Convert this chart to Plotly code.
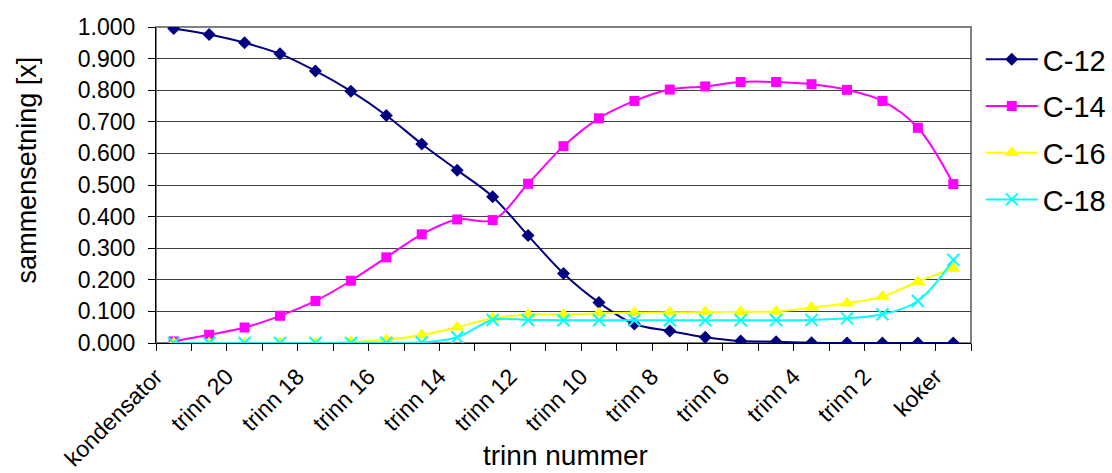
import plotly.graph_objects as go

categories = ["kondensator"] + [f"trinn {n}" for n in range(21, 0, -1)] + ["koker"]

c12 = [0.995, 0.976, 0.950, 0.915, 0.861, 0.797, 0.720, 0.630, 0.547, 0.463,
       0.340, 0.220, 0.128, 0.060, 0.038, 0.018, 0.006, 0.004, 0.001, 0.000,
       0.000, 0.000, 0.000]
c14 = [0.005, 0.026, 0.049, 0.086, 0.133, 0.197, 0.271, 0.344, 0.391, 0.389,
       0.504, 0.623, 0.711, 0.766, 0.802, 0.812, 0.826, 0.826, 0.819, 0.801,
       0.766, 0.681, 0.503]
c16 = [0.000, 0.000, 0.000, 0.000, 0.000, 0.004, 0.010, 0.025, 0.050, 0.078,
       0.090, 0.090, 0.094, 0.096, 0.097, 0.098, 0.099, 0.100, 0.112, 0.126,
       0.147, 0.194, 0.236]
c18 = [0.000, 0.000, 0.000, 0.000, 0.000, 0.000, 0.001, 0.002, 0.018, 0.073,
       0.073, 0.072, 0.072, 0.072, 0.072, 0.072, 0.072, 0.072, 0.073, 0.078,
       0.091, 0.133, 0.263]

series_names = ["C-12", "C-14", "C-16", "C-18"]
series_values = [c12, c14, c16, c18]
colors = ["#000080", "#FF00FF", "#FFFF00", "#00FFFF"]
symbols = ["diamond", "square", "triangle-up", "x-thin-open"]
msizes = [10, 10, 13, 12]

FONT = "Arial, Liberation Sans, sans-serif"
x = list(range(len(categories)))

fig = go.Figure()
for name, vals, col, sym, ms in zip(series_names, series_values, colors, symbols, msizes):
    marker = dict(symbol=sym, size=ms, color=col)
    if sym.startswith("x-thin"):
        marker["line"] = dict(color=col, width=2)
    fig.add_trace(go.Scatter(
        x=x, y=vals, name=name, mode="lines+markers",
        line=dict(color=col, width=2, shape="spline", smoothing=1.0),
        marker=marker, legendgroup=name,
    ))

fig.update_layout(
    width=1112, height=473,
    margin=dict(l=156, r=141, t=27, b=130, autoexpand=False),
    paper_bgcolor="white", plot_bgcolor="white",
    font=dict(family=FONT, color="black"),
    showlegend=True,
    legend=dict(
        x=1.012, y=0.978, xanchor="left", yanchor="top",
        font=dict(size=29, family=FONT, color="black"),
        tracegroupgap=6, bgcolor="rgba(0,0,0,0)",
        traceorder="grouped", itemwidth=52,
    ),
    xaxis=dict(
        range=[-0.5, len(categories) - 0.5],
        automargin=False,
        tickmode="array",
        tickvals=x[::2],
        ticktext=categories[::2],
        tickangle=-45,
        ticks="", ticklen=0,
        ticklabelstandoff=10, ticklabelshift=-18,
        tickfont=dict(size=23, family=FONT, color="black"),
        showgrid=False, zeroline=False,
        showline=True, linecolor="black", linewidth=1,
        minor=dict(tickmode="array", tickvals=[i - 0.5 for i in range(len(categories) + 1)],
                   ticks="outside", ticklen=7, tickcolor="black", tickwidth=1, showgrid=False),
    ),
    yaxis=dict(
        range=[0, 1.0],
        automargin=False,
        tick0=0, dtick=0.1,
        tickformat=".3f",
        ticks="outside", ticklen=7, tickcolor="black",
        ticklabelstandoff=8,
        tickfont=dict(size=23, family=FONT, color="black"),
        showgrid=True, gridcolor="#404040", gridwidth=1,
        zeroline=False,
        showline=True, linecolor="black", linewidth=1,
    ),
    shapes=[dict(type="rect", xref="paper", yref="paper", x0=0, x1=1, y0=0, y1=1,
                 line=dict(color="#808080", width=2), layer="below")],
    annotations=[
        dict(text="sammensetning [x]", xref="paper", yref="paper", x=-0.158, y=0.547,
             textangle=-90, showarrow=False, xanchor="center", yanchor="middle",
             font=dict(size=27, family=FONT, color="black")),
        dict(text="trinn nummer", xref="paper", yref="paper", x=0.503, y=-0.4114,
             showarrow=False, xanchor="center", yanchor="bottom",
             font=dict(size=28, family=FONT, color="black")),
    ],
)

fig.write_html("out.html")
